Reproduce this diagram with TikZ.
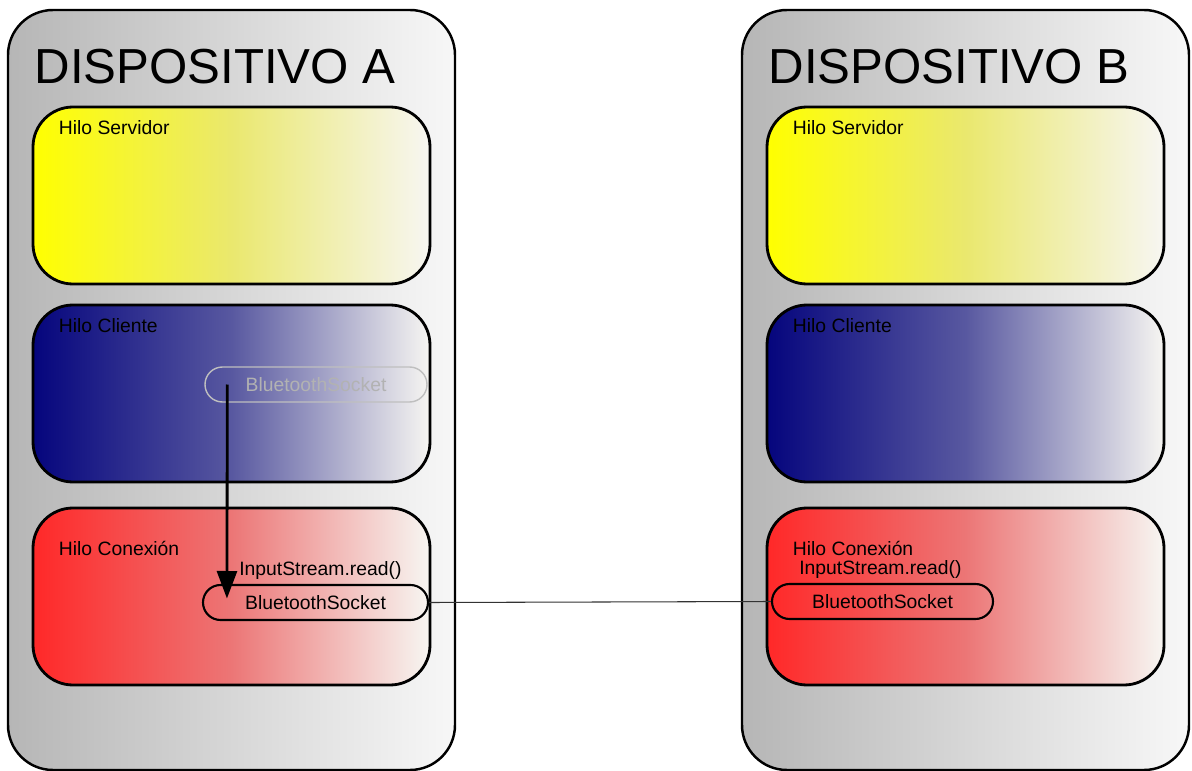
\documentclass[tikz,border=0pt]{standalone}
\usepackage{fontspec}
\setmainfont{Liberation Sans}
\usetikzlibrary{arrows.meta,calc}
\definecolor{devgray}{RGB}{182,182,182}
\definecolor{srvyellow}{RGB}{255,255,0}
\definecolor{srvmid}{RGB}{234,232,110}
\definecolor{cliblue}{RGB}{5,5,125}
\definecolor{climid}{RGB}{88,88,160}
\definecolor{conred}{RGB}{255,40,40}
\definecolor{conmid}{RGB}{236,118,118}
\definecolor{fadeend}{RGB}{247,246,242}

\begin{document}
\begin{tikzpicture}[>=Triangle,
  device/.style={draw=black, line width=1.4pt, rounded corners=0.9cm, left color=devgray, right color=white!97!black,
                 minimum width=8.94cm, minimum height=15.2cm},
  hilo/.style={draw=black, line width=1.6pt, rounded corners=0.8cm, right color=fadeend,
               minimum width=7.94cm, minimum height=3.54cm},
  lbl/.style={anchor=north west, inner sep=0pt, font=\fontsize{11}{13}\selectfont},
  sock/.style={draw=black, line width=1.2pt, rounded corners=0.35cm, minimum height=0.7cm,
               inner sep=0pt, font=\fontsize{11}{13}\selectfont}]
\useasboundingbox (0,0) rectangle (23.84,-15.42);
\foreach \d/\x in {A/4.63, B/19.31}{
  \node[device] (dev\d) at (\x,-7.8) {};
  \node[anchor=base west, inner sep=0pt, font=\fontsize{28}{32}\selectfont] (tit\d)
    at ($(dev\d.north west)+(0.55,-1.5)$) {DISPOSITIVO \d};
  \node[hilo, left color=srvyellow, middle color=srvmid] (hs\d) at (\x,-3.91) {};
  \node[hilo, left color=cliblue, middle color=climid] (hc\d) at (\x,-7.87) {};
  \node[hilo, left color=conred, middle color=conmid] (hx\d) at (\x,-11.93) {};
  \node[lbl] (lhs\d) at ($(hs\d.north west)+(0.54,-0.3)$) {Hilo Servidor};
  \node[lbl] (lhc\d) at ($(hc\d.north west)+(0.54,-0.3)$) {Hilo Cliente};
  \node[lbl] (lhx\d) at ($(hx\d.north west)+(0.54,-0.68)$) {Hilo Conexión};
}
% sockets
\node[sock, draw=black!25, text=black!30, line width=0.8pt, minimum width=4.44cm] (sockA1) at (6.32,-7.69) {BluetoothSocket};
\node[sock, minimum width=4.5cm] (sockA2) at (6.31,-12.05) {BluetoothSocket};
\node[sock, minimum width=4.42cm] (sockB) at (17.65,-12.03) {BluetoothSocket};
\node[lbl, anchor=base west] (readA) at ($(sockA2.north west)+(0.74,0.17)$) {InputStream.read()};
\node[lbl, anchor=base west] (readB) at ($(sockB.north west)+(0.56,0.17)$) {InputStream.read()};

\draw[->, line width=1.6pt, >={Triangle[length=5.5mm, width=4mm]}]
  ($(sockA1.west)+(0.46,0)$) -- ($(sockA2.west)+(0.5,0.08)$);
\draw[line width=0.6pt, black!80] (sockA2.east) -- (sockB.west);
\end{tikzpicture}
\end{document}
